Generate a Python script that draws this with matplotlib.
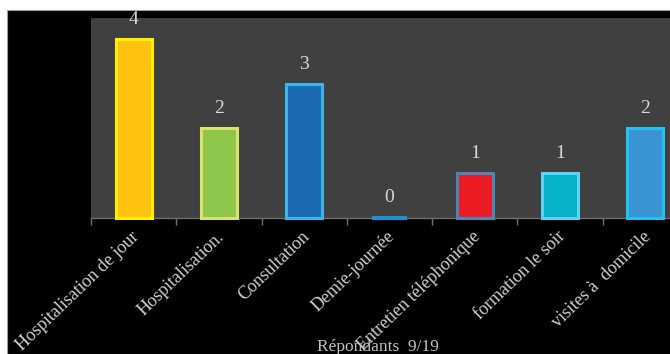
import matplotlib.pyplot as plt
import matplotlib.transforms as mtransforms
import numpy as np
from matplotlib.patches import Rectangle

plt.rcParams['font.family'] = ['Liberation Serif', 'DejaVu Serif']

# Data
categories = ['Hospitalisation de jour', 'Hospitalisation.', 'Consultation', 'Demie-journée',
              'Entretien téléphonique', 'formation le soir', 'visites à  domicile']
values = [4, 2, 3, 0, 1, 1, 2]
face_colors = ['#FFC20E', '#8DC64B', '#1C6AB2', '#1E8FCF', '#ED1C24', '#05B2C8', '#3A93D3']
edge_colors = ['#FFF200', '#D8E46A', '#3BB8EA', '#1E8FCF', '#4A86B8', '#5DD3F2', '#22C3F2']
footer = 'Répondants  9/19'

fig = plt.figure(figsize=(6.7, 3.54), dpi=100, facecolor='white')
# black panel (white strip on top and left like the screenshot)
fig.patches.append(Rectangle((7 / 670, 0), 1, (354 - 10) / 354, transform=fig.transFigure,
                             facecolor='black', edgecolor='#a0a0a0', linewidth=0.8, zorder=-5))

ax = fig.add_axes([91 / 670, (354 - 217.5) / 354, (688 - 91) / 670, (217.5 - 18) / 354])
ax.set_facecolor('#404040')

x = np.arange(len(categories))
bars = ax.bar(x, values, width=0.42, color=face_colors, edgecolor=edge_colors, linewidth=2.2, zorder=3)
for b in bars:
    b.set_clip_on(False)
bars[3].set_linewidth(3)

for xi, v in zip(x, values):
    ax.text(xi, v + 0.25, str(v), ha='center', va='bottom', color='#d9d9d9',
            fontsize=14, clip_on=False)

ax.set_xlim(-0.5, len(categories) - 0.5)
ax.set_ylim(0, 4.48)
ax.set_yticks([])

for s in ['top', 'right', 'left']:
    ax.spines[s].set_visible(False)
ax.spines['bottom'].set_color('#6f6f6f')
ax.spines['bottom'].set_linewidth(1)

ax.set_xticks(x)
ax.set_xticklabels(categories, rotation=44, ha='right', va='center', rotation_mode='anchor',
                   color='#d0d0d0', fontsize=13)
ax.tick_params(axis='x', which='major', length=0, pad=12)
ax.set_xticks(np.arange(len(categories) + 1) - 0.5, minor=True)
ax.tick_params(axis='x', which='minor', length=5, color='#6f6f6f', width=1)
shift = mtransforms.ScaledTranslation(3 / 100, 0, fig.dpi_scale_trans)
for lbl in ax.get_xticklabels():
    lbl.set_transform(lbl.get_transform() + shift)

fig.text(378 / 670, (354 - 347) / 354, footer, ha='center', va='center', color='#c0c0c0', fontsize=12.5)

fig.savefig('out.png', dpi=100, facecolor=fig.get_facecolor())
